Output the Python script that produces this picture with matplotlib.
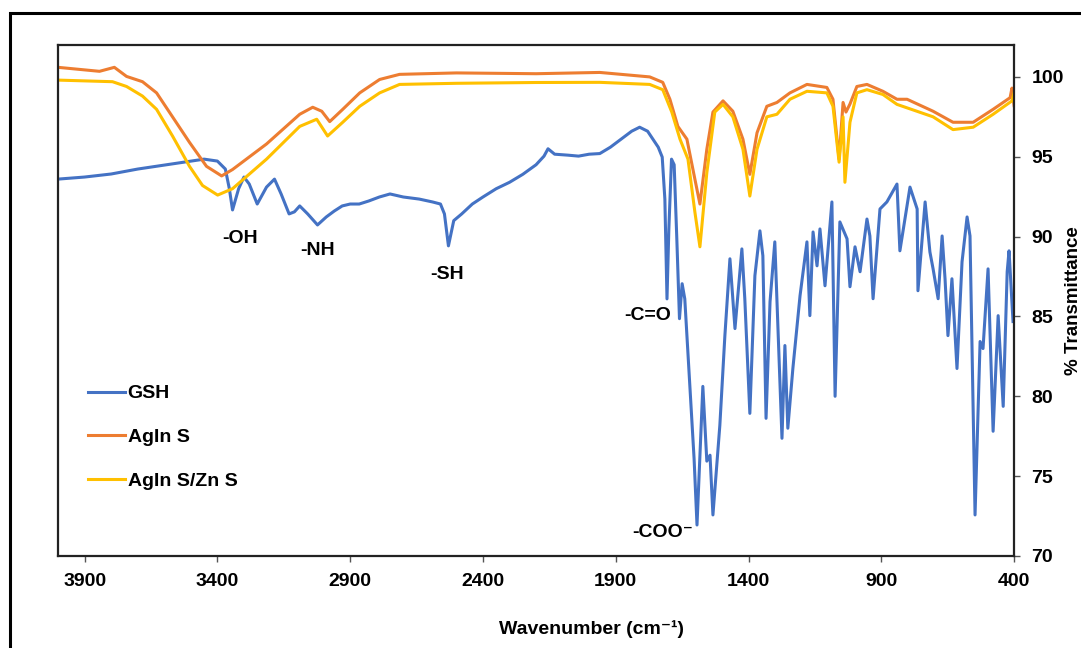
import matplotlib
matplotlib.use("Agg")
import matplotlib.pyplot as plt
from matplotlib.patches import Rectangle

# GSH spectrum (wavenumber, % transmittance)
gsh_wn = [4000, 3900, 3800, 3700, 3600, 3500, 3450, 3400, 3370, 3355, 3343, 3320, 3300, 3280,
          3250, 3215, 3185, 3160, 3130, 3110, 3090, 3060, 3023, 2990, 2960, 2930, 2900, 2866,
          2830, 2790, 2750, 2700, 2640, 2590, 2560, 2545, 2530, 2510, 2480, 2440, 2400, 2350,
          2300, 2250, 2200, 2170, 2155, 2130, 2080, 2040, 2000, 1960, 1920, 1880, 1840, 1810,
          1780, 1760, 1740, 1725, 1715, 1707, 1700, 1690, 1680, 1670, 1660, 1650, 1640, 1621,
          1605, 1594, 1572, 1557, 1545, 1534, 1508, 1489, 1470, 1451, 1425, 1414, 1395, 1376,
          1357, 1346, 1334, 1319, 1301, 1274, 1263, 1252, 1233, 1206, 1180, 1169, 1157, 1142,
          1131, 1112, 1086, 1074, 1056, 1029, 1018, 999, 980, 954, 943, 931, 905, 879, 841,
          830, 811, 792, 765, 762, 735, 717, 705, 686, 671, 660, 649, 634, 615, 596, 577, 566,
          547, 528, 517, 498, 479, 460, 441, 426, 419, 404]
gsh_t = [93.6, 93.73, 93.92, 94.23, 94.48, 94.73, 94.85, 94.73, 94.23, 93.0, 91.67, 93.0, 93.73, 93.29,
         92.04, 93.1, 93.6, 92.67, 91.42, 91.55, 91.92, 91.42, 90.73, 91.23, 91.6, 91.92, 92.04, 92.04,
         92.23, 92.48, 92.67, 92.48, 92.35, 92.17, 92.04, 91.42, 89.42, 91.0, 91.42, 92.04, 92.48, 93.0,
         93.4, 93.9, 94.5, 95.04, 95.5, 95.16, 95.1, 95.04, 95.16, 95.2, 95.6, 96.1, 96.6, 96.85,
         96.6, 96.1, 95.6, 94.98, 92.35, 86.1, 90.48, 94.85, 94.5, 89.86, 84.86, 87.05, 86.1, 80.68,
         76.1, 71.94, 80.62, 75.94, 76.31, 72.57, 78.18, 83.8, 88.61, 84.24, 89.23, 86.11, 78.93, 87.55,
         90.36, 88.8, 78.62, 85.92, 89.67, 77.37, 83.18, 78.0, 81.74, 86.3, 89.67, 85.05, 90.29, 88.17,
         90.48, 86.92, 92.17, 80.0, 90.92, 89.86, 86.86, 89.36, 87.8, 91.1, 90.04, 86.11, 91.73, 92.17, 93.29,
         89.11, 91.1, 93.1, 91.73, 86.61, 92.17, 89.04, 87.98, 86.11, 90.04, 87.36, 83.8, 87.36, 81.74, 88.42, 91.23, 90.04,
         72.57, 83.43, 82.99, 87.98, 77.81, 85.05, 79.37, 87.8, 89.11, 84.68]

# AgInS
agins_wn = [4000, 3844, 3788, 3742, 3682, 3629, 3569, 3505, 3441, 3384, 3343, 3215, 3090, 3041,
            3007, 2977, 2928, 2864, 2789, 2714, 2500, 2200, 1960, 1772, 1723, 1696, 1666, 1632,
            1602, 1583, 1557, 1534, 1496, 1459, 1421, 1395, 1368, 1331, 1293, 1244, 1180, 1105,
            1082, 1059, 1044, 1033, 1018, 992, 954, 894, 841, 803, 705, 630, 554, 479, 415, 408, 400]
agins_t = [100.6, 100.35, 100.6, 100.03, 99.7, 99.0, 97.5, 95.9, 94.4, 93.8, 94.2, 95.8, 97.66, 98.1,
           97.85, 97.2, 97.97, 99.0, 99.84, 100.16, 100.25, 100.2, 100.28, 100.0, 99.66, 98.6, 96.9, 96.1,
           93.6, 92.04, 95.47, 97.8, 98.5, 97.85, 96.1, 93.9, 96.5, 98.16, 98.4, 99.0, 99.53, 99.34,
           98.6, 94.85, 98.4, 97.8, 98.3, 99.4, 99.53, 99.1, 98.6, 98.6, 97.85, 97.16, 97.16, 97.97, 98.7, 99.3, 98.2]

# AgInS/ZnS
zns_wn = [4000, 3795, 3742, 3682, 3629, 3569, 3505, 3456, 3399, 3343, 3215, 3090, 3026, 2985,
          2928, 2864, 2789, 2714, 2500, 2200, 1960, 1772, 1723, 1689, 1658, 1628, 1602, 1583,
          1557, 1527, 1496, 1459, 1421, 1395, 1368, 1331, 1293, 1244, 1180, 1105, 1082, 1059,
          1044, 1037, 1018, 992, 954, 894, 841, 705, 630, 554, 479, 408, 400]
zns_t = [99.8, 99.7, 99.4, 98.8, 97.97, 96.3, 94.4, 93.2, 92.6, 93.0, 94.85, 96.9, 97.35, 96.3,
         97.16, 98.16, 99.0, 99.53, 99.6, 99.65, 99.66, 99.53, 99.2, 97.8, 96.1, 94.85, 91.54, 89.36,
         94.0, 97.8, 98.28, 97.5, 95.47, 92.54, 95.47, 97.5, 97.66, 98.6, 99.1, 99.0, 98.16, 94.66,
         97.5, 93.4, 97.16, 99.0, 99.2, 98.9, 98.28, 97.5, 96.7, 96.85, 97.66, 98.5, 99.0]

# peak labels: text, wavenumber, transmittance
peak_names = ["-OH", "-NH", "-SH", "-C=O", "-COO\u207b"]
peak_wn = [3313, 3023, 2536, 1779, 1723]
peak_t = [89.86, 89.1, 87.6, 85.05, 71.44]

plt.rcParams['font.family'] = ['Liberation Sans', 'DejaVu Sans']
plt.rcParams['font.size'] = 14
plt.rcParams['font.weight'] = 'bold'
plt.rcParams['axes.labelweight'] = 'bold'

fig = plt.figure(figsize=(10.81, 6.48), dpi=100)
ax = fig.add_axes([0.0537, 0.142, 0.8844, 0.7886])

ax.plot(gsh_wn, gsh_t, color='#4472C4', lw=2.2, label='GSH')
ax.plot(agins_wn, agins_t, color='#ED7D31', lw=2.2, label='AgIn S')
ax.plot(zns_wn, zns_t, color='#FFC000', lw=2.2, label='AgIn S/Zn S')

for name, x, y in zip(peak_names, peak_wn, peak_t):
    ax.text(x, y, name, ha='center', va='center', fontsize=14)

ax.set_xlim(4000, 400)
ax.set_ylim(70, 102)
ax.set_xticks(range(3900, 399, -500))
ax.set_yticks(range(70, 101, 5))
ax.yaxis.tick_right()
ax.yaxis.set_label_position('right')
ax.tick_params(axis='x', direction='out', length=4.5, width=1, color='#555', pad=8)
ax.tick_params(axis='y', direction='out', length=4.5, width=1, color='#555', pad=8)
for s in ax.spines.values():
    s.set_linewidth(1.6)
    s.set_color('#222222')

ax.set_ylabel("% Transmittance", labelpad=1, fontsize=13.5)
ax.set_xlabel("Wavenumber (cm\u207b\u00b9)")
ax.xaxis.set_label_coords(0.5575, -0.125)

ax.legend(loc='upper left', bbox_to_anchor=(0.031, 0.335), frameon=False, borderpad=0,
          borderaxespad=0, handlelength=1.9, handletextpad=0.15, labelspacing=1.35, fontsize=14)

# outer frame of the figure
fig.add_artist(Rectangle((10 / 1081, -0.1), 1.2, 1 - 13 / 648 + 0.1, transform=fig.transFigure,
                         fill=False, lw=2.2, ec='black'))

fig.savefig("out.png", dpi=100)
